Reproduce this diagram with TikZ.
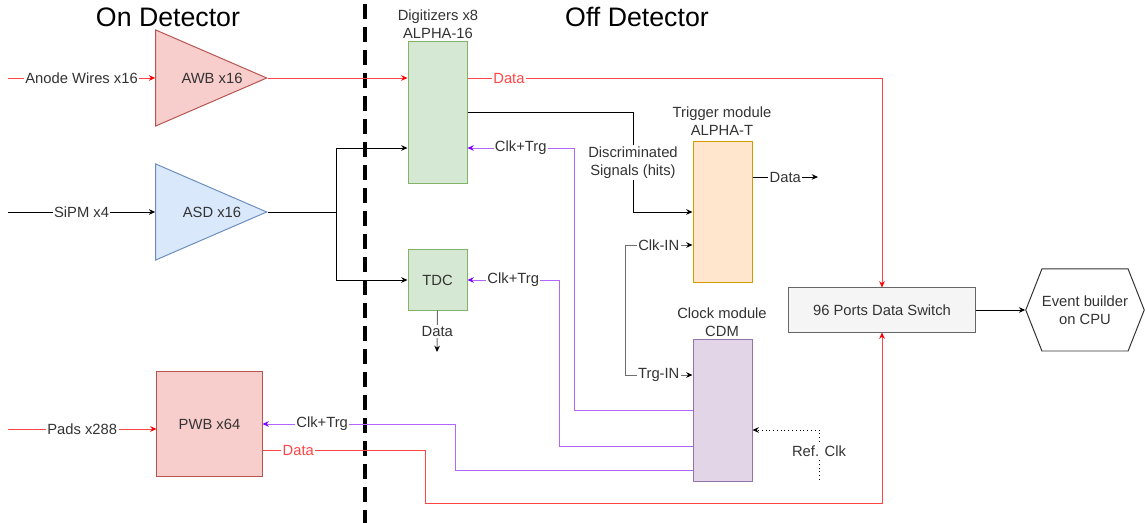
\documentclass[tikz,border=0pt]{standalone}
\usepackage{fontspec}
\setmainfont{Liberation Sans}
\usetikzlibrary{arrows.meta,shapes.geometric,shapes.symbols,positioning,calc}
\definecolor{awbFill}   {RGB}{248, 206, 204}
\definecolor{awbDraw}   {RGB}{184, 84,  80}
\definecolor{asdFill}   {RGB}{218, 232, 252}
\definecolor{asdDraw}   {RGB}{108, 142, 191}
\definecolor{digiFill}  {RGB}{213, 232, 212}
\definecolor{digiDraw}  {RGB}{130, 179, 102}
\definecolor{trigFill}  {RGB}{255, 230, 204}
\definecolor{trigDraw}  {RGB}{215, 155, 0}
\definecolor{cdmFill}   {RGB}{225, 213, 231}
\definecolor{cdmDraw}   {RGB}{150, 115, 166}
\definecolor{swFill}    {RGB}{245, 245, 245}
\definecolor{swDraw}    {RGB}{102, 102, 102}
\definecolor{dataRed}   {RGB}{255, 70,  70}
\definecolor{clkPurple} {RGB}{178, 102, 255}
\definecolor{clkArrow}  {RGB}{127, 0,   255}
\definecolor{wireGray}  {RGB}{110, 110, 110}
\definecolor{txtGray}   {RGB}{51,  51,  51}

\begin{document}
\begin{tikzpicture}[x=0.025cm,y=-0.025cm,
    lbl/.style={font=\fontsize{10.5}{12.8}\selectfont,text=txtGray,align=center},
    onwire/.style={lbl,fill=white,inner sep=1pt},
    title/.style={font=\fontsize{19}{22}\selectfont,text=black},
    amp/.style={isosceles triangle,isosceles triangle stretches,inner sep=0pt,
                minimum width=2.4cm,minimum height=2.775cm,line width=0.7pt},
    blockbox/.style={lbl,rectangle,line width=0.7pt,inner sep=0pt,
                     minimum width=1.475cm,minimum height=3.525cm},
    plain/.style={line width=0.7pt},
    wire/.style={plain,-{Stealth[length=4.5pt,width=4pt]}},
    datawire/.style={wire,draw=dataRed,-{Stealth[length=4.5pt,width=4pt,color=red]}},
    clkwire/.style={wire,draw=clkPurple,-{Stealth[length=4.5pt,width=4pt,color=clkArrow]}}]

    \fill[white] (0,0) rectangle (1145,523);
    \useasboundingbox (0,0) rectangle (1145,523);

    % ─── Titulos e divisoria ──────────────────────────────
    \node[title] (ontitle) at (168,17) {On Detector};
    \node[title] (offtitle) at (637,17) {Off Detector};
    \draw[line width=2.4pt,dash pattern=on 0.375cm off 0.2cm] (365,4) -- (365,523);

    % ─── Amplificadores ───────────────────────────────────
    \node[amp,fill=awbFill,draw=awbDraw,anchor=apex] (awb) at (268,78) {};
    \node[lbl] (awbtxt) at (212,78) {AWB x16};
    \node[amp,fill=asdFill,draw=asdDraw,anchor=apex] (asd) at (268,212) {};
    \node[lbl] (asdtxt) at (212,212) {ASD x16};

    % ─── Caixas ───────────────────────────────────────────
    \node[blockbox,fill=digiFill,draw=digiDraw] (digi) at (437.5,112.5) {};
    \node[lbl] (digilbl) at (438,24) {Digitizers x8\\ALPHA-16};
    \node[blockbox,minimum height=1.5cm,fill=digiFill,draw=digiDraw] (tdc) at (437.5,280) {TDC};
    \node[blockbox,fill=trigFill,draw=trigDraw] (trig) at (722.5,212) {};
    \node[lbl] (triglbl) at (722,121) {Trigger module\\ALPHA-T};
    \node[blockbox,fill=cdmFill,draw=cdmDraw] (cdm) at (722.5,410.5) {};
    \node[lbl] (cdmlbl) at (722,322) {Clock module\\CDM};
    \node[blockbox,minimum width=4.65cm,minimum height=1.1cm,fill=swFill,draw=swDraw]
      (switch) at (882,310) {96 Ports Data Switch};
    \node[blockbox,minimum width=2.625cm,minimum height=2.6cm,fill=awbFill,draw=awbDraw]
      (pwb) at (209.5,424) {PWB x64};
    \node[lbl,signal,signal to=west and east,signal pointer angle=137,draw=black!80,
          line width=0.7pt,inner sep=0pt,minimum width=2.9cm,minimum height=2.05cm]
      (evb) at (1085,310) {Event builder\\on CPU};

    % ─── Entradas ─────────────────────────────────────────
    \coordinate (anodein) at (8,78);
    \coordinate (sipmin) at (8,212);
    \coordinate (padsin) at (8,429);
    \draw[datawire] (anodein) -- node[onwire]{Anode Wires x16} (awb.west);
    \draw[wire] (sipmin) -- node[onwire]{SiPM x4} (asd.west);
    \draw[datawire] (padsin) -- node[onwire,pos=0.5]{Pads x288} (pwb.west |- padsin);

    % ─── Dados (vermelho) ─────────────────────────────────
    \draw[datawire] (awb.apex) -- (digi.west |- awb.apex);
    \draw[datawire] (digi.east |- awb.apex) -| node[onwire,pos=0.05,text=dataRed]{Data} (switch.north);
    \coordinate (pwbdown) at (425,503);
    \draw[datawire] ($(pwb.east)+(0,26)$) -| node[onwire,pos=0.11,text=dataRed]{Data}
      (pwbdown) -| (switch.south);

    % ─── Sinais ASD ───────────────────────────────────────
    \coordinate (asdsplit) at (336,212);
    \coordinate (dlevel) at (0,148);
    \draw[plain] (asd.apex) -- (asdsplit);
    \draw[wire] (asdsplit) |- (digi.west |- dlevel);
    \draw[wire] (asdsplit) |- (tdc.west);
    \coordinate (tdcout) at (437,352);
    \draw[wire,draw=wireGray,-{Stealth[length=4.5pt,width=4pt,color=black]}]
      (tdc.south) -- node[onwire]{Data} (tdcout);

    % ─── Trigger ──────────────────────────────────────────
    \coordinate (discr) at (633,212);
    \draw[wire] (digi.east) -| node[onwire,pos=0.75]{Discriminated\\Signals (hits)} (discr) -- (trig.west);
    \coordinate (trigout) at (818,177);
    \draw[wire] (trig.east |- trigout) -- node[onwire]{Data} (trigout);
    \coordinate (clkin) at (625,245);
    \coordinate (trgin) at (625,375);
    \draw[plain,draw=wireGray] (clkin) -- (trgin);
    \draw[wire,draw=wireGray,-{Stealth[length=4.5pt,width=4pt,color=black]}]
      (clkin) -- node[onwire]{Clk-IN} (trig.west |- clkin);
    \draw[wire,draw=wireGray,-{Stealth[length=4.5pt,width=4pt,color=black]}]
      (trgin) -- node[onwire]{Trg-IN} (cdm.west |- trgin);

    % ─── Clk+Trg (roxo) ───────────────────────────────────
    \coordinate (ctdigi) at (574,148);
    \coordinate (cttdc) at (559,280);
    \coordinate (ctpwb) at (455,424);
    \draw[clkwire] (cdm.west) -| (ctdigi) -- node[onwire]{Clk+Trg} (digi.east |- ctdigi);
    \draw[clkwire] ($(cdm.west)+(0,35.5)$) -| (cttdc) -- node[onwire]{Clk+Trg} (tdc.east);
    \draw[clkwire] ($(cdm.west)+(0,60)$) -| (ctpwb) -- node[onwire,pos=0.69]{Clk+Trg} (pwb.east);

    % ─── Ref. Clk e saida ─────────────────────────────────
    \coordinate (refclk) at (819,480);
    \draw[wire,dotted,line width=0.6pt] (refclk) |- node[onwire,pos=0.29]{Ref. Clk} ($(cdm.east)+(0,19.5)$);
    \draw[wire] (switch.east) -- (evb.west);

\end{tikzpicture}
\end{document}
